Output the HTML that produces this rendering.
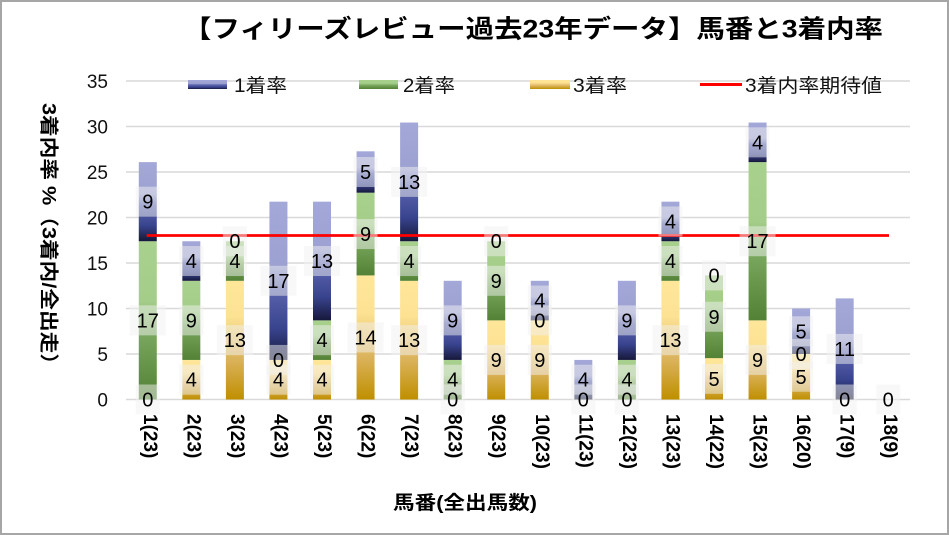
<!DOCTYPE html>
<html><head><meta charset="utf-8"><style>
html,body{margin:0;padding:0;background:#fff;}
svg{display:block;font-family:"Liberation Sans","Noto Sans CJK JP",sans-serif;}
</style></head><body>
<svg width="949" height="535" viewBox="0 0 949 535" xmlns="http://www.w3.org/2000/svg">
<defs>
<linearGradient id="g1" x1="0" y1="0" x2="0" y2="1">
<stop offset="0" stop-color="#a3a8d8"/><stop offset="0.4" stop-color="#9ca1d1"/><stop offset="0.55" stop-color="#5b64ad"/><stop offset="0.8" stop-color="#39448f"/><stop offset="1" stop-color="#16183a"/>
</linearGradient>
<linearGradient id="g2" x1="0" y1="0" x2="0" y2="1">
<stop offset="0" stop-color="#a9d18e"/><stop offset="0.38" stop-color="#a3cd88"/><stop offset="0.6" stop-color="#77a65c"/><stop offset="1" stop-color="#538135"/>
</linearGradient>
<linearGradient id="g3" x1="0" y1="0" x2="0" y2="1">
<stop offset="0" stop-color="#ffe699"/><stop offset="0.3" stop-color="#fde294"/><stop offset="0.65" stop-color="#dcb45e"/><stop offset="1" stop-color="#bf8f00"/>
</linearGradient>
</defs>
<rect x="1" y="1" width="947" height="533" fill="#fff" stroke="#a6a6a6" stroke-width="2"/>

<text x="183" y="37.5" font-size="25" font-weight="bold" textLength="700" lengthAdjust="spacingAndGlyphs" fill="#000">【フィリーズレビュー過去23年データ】馬番と3着内率</text>

<!-- gridlines -->
<g stroke="#d9d9d9" stroke-width="1.5">
<line x1="126" y1="81" x2="910" y2="81"/>
<line x1="126" y1="126.5" x2="910" y2="126.5"/>
<line x1="126" y1="172" x2="910" y2="172"/>
<line x1="126" y1="217.5" x2="910" y2="217.5"/>
<line x1="126" y1="263" x2="910" y2="263"/>
<line x1="126" y1="308.5" x2="910" y2="308.5"/>
<line x1="126" y1="354" x2="910" y2="354"/>
<line x1="126" y1="399.5" x2="910" y2="399.5"/>
</g>

<!-- y ticks -->
<g font-size="19" text-anchor="end" fill="#111">
<text x="108" y="88">35</text>
<text x="108" y="133.5">30</text>
<text x="108" y="179">25</text>
<text x="108" y="224.5">20</text>
<text x="108" y="270">15</text>
<text x="108" y="315.5">10</text>
<text x="108" y="361">5</text>
<text x="108" y="406.5">0</text>
</g>

<text transform="translate(48,239) rotate(90)" text-anchor="middle" dominant-baseline="central" font-size="19" font-weight="bold" textLength="272" lengthAdjust="spacingAndGlyphs" fill="#000">3着内率 %（3着内/全出走）</text>

<!-- legend -->
<rect x="188" y="80" width="39" height="9" fill="url(#g1)"/>
<text x="234" y="92" font-size="19" textLength="53" lengthAdjust="spacingAndGlyphs" fill="#111">1着率</text>
<rect x="359" y="80" width="39" height="9" fill="url(#g2)"/>
<text x="403" y="92" font-size="19" textLength="52" lengthAdjust="spacingAndGlyphs" fill="#111">2着率</text>
<rect x="530" y="80" width="40" height="9" fill="url(#g3)"/>
<text x="573" y="92" font-size="19" textLength="54" lengthAdjust="spacingAndGlyphs" fill="#111">3着率</text>
<line x1="700" y1="84.5" x2="742" y2="84.5" stroke="#ff0000" stroke-width="3"/>
<text x="745" y="92" font-size="19" textLength="137" lengthAdjust="spacingAndGlyphs" fill="#111">3着内率期待値</text>

<!-- bars -->
<g>
<!-- 1 -->
<rect x="138.78" y="241.24" width="18" height="158.26" fill="url(#g2)"/>
<rect x="138.78" y="162.11" width="18" height="79.13" fill="url(#g1)"/>
<!-- 2 -->
<rect x="182.33" y="359.93" width="18" height="39.57" fill="url(#g3)"/>
<rect x="182.33" y="280.8" width="18" height="79.13" fill="url(#g2)"/>
<rect x="182.33" y="241.24" width="18" height="39.57" fill="url(#g1)"/>
<!-- 3 -->
<rect x="225.89" y="280.8" width="18" height="118.7" fill="url(#g3)"/>
<rect x="225.89" y="241.24" width="18" height="39.57" fill="url(#g2)"/>
<!-- 4 -->
<rect x="269.44" y="359.93" width="18" height="39.57" fill="url(#g3)"/>
<rect x="269.44" y="201.67" width="18" height="158.26" fill="url(#g1)"/>
<!-- 5 -->
<rect x="313" y="359.93" width="18" height="39.57" fill="url(#g3)"/>
<rect x="313" y="320.37" width="18" height="39.57" fill="url(#g2)"/>
<rect x="313" y="201.67" width="18" height="118.7" fill="url(#g1)"/>
<!-- 6 -->
<rect x="356.56" y="275.41" width="18" height="124.09" fill="url(#g3)"/>
<rect x="356.56" y="192.68" width="18" height="82.73" fill="url(#g2)"/>
<rect x="356.56" y="151.32" width="18" height="41.36" fill="url(#g1)"/>
<!-- 7 -->
<rect x="400.11" y="280.8" width="18" height="118.7" fill="url(#g3)"/>
<rect x="400.11" y="241.24" width="18" height="39.57" fill="url(#g2)"/>
<rect x="400.11" y="122.54" width="18" height="118.7" fill="url(#g1)"/>
<!-- 8 -->
<rect x="443.67" y="359.93" width="18" height="39.57" fill="url(#g2)"/>
<rect x="443.67" y="280.8" width="18" height="79.13" fill="url(#g1)"/>
<!-- 9 -->
<rect x="487.22" y="320.37" width="18" height="79.13" fill="url(#g3)"/>
<rect x="487.22" y="241.24" width="18" height="79.13" fill="url(#g2)"/>
<!-- 10 -->
<rect x="530.78" y="320.37" width="18" height="79.13" fill="url(#g3)"/>
<rect x="530.78" y="280.8" width="18" height="39.57" fill="url(#g1)"/>
<!-- 11 -->
<rect x="574.33" y="359.93" width="18" height="39.57" fill="url(#g1)"/>
<!-- 12 -->
<rect x="617.89" y="359.93" width="18" height="39.57" fill="url(#g2)"/>
<rect x="617.89" y="280.8" width="18" height="79.13" fill="url(#g1)"/>
<!-- 13 -->
<rect x="661.44" y="280.8" width="18" height="118.7" fill="url(#g3)"/>
<rect x="661.44" y="241.24" width="18" height="39.57" fill="url(#g2)"/>
<rect x="661.44" y="201.67" width="18" height="39.57" fill="url(#g1)"/>
<!-- 14 -->
<rect x="705" y="358.14" width="18" height="41.36" fill="url(#g3)"/>
<rect x="705" y="275.41" width="18" height="82.73" fill="url(#g2)"/>
<!-- 15 -->
<rect x="748.56" y="320.37" width="18" height="79.13" fill="url(#g3)"/>
<rect x="748.56" y="162.11" width="18" height="158.26" fill="url(#g2)"/>
<rect x="748.56" y="122.54" width="18" height="39.57" fill="url(#g1)"/>
<!-- 16 -->
<rect x="792.11" y="354" width="18" height="45.5" fill="url(#g3)"/>
<rect x="792.11" y="308.5" width="18" height="45.5" fill="url(#g1)"/>
<!-- 17 -->
<rect x="835.67" y="298.39" width="18" height="101.11" fill="url(#g1)"/>
</g>

<!-- expected line -->
<line x1="146.7" y1="235.5" x2="889" y2="235.5" stroke="#ff0000" stroke-width="2.8"/>

<!-- label boxes -->
<g fill="#f2f2f2" fill-opacity="0.5">
<rect x="135.78" y="384.5" width="24" height="30"/>
<rect x="129.78" y="305.37" width="36" height="30"/>
<rect x="135.78" y="186.68" width="24" height="30"/>

<rect x="179.33" y="364.72" width="24" height="30"/>
<rect x="179.33" y="305.37" width="24" height="30"/>
<rect x="179.33" y="246.02" width="24" height="30"/>

<rect x="216.89" y="325.15" width="36" height="30"/>
<rect x="222.89" y="246.02" width="24" height="30"/>
<rect x="222.89" y="226.24" width="24" height="30"/>

<rect x="266.44" y="364.72" width="24" height="30"/>
<rect x="266.44" y="344.93" width="24" height="30"/>
<rect x="260.44" y="265.8" width="36" height="30"/>

<rect x="310" y="364.72" width="24" height="30"/>
<rect x="310" y="325.15" width="24" height="30"/>
<rect x="304" y="246.02" width="36" height="30"/>

<rect x="347.56" y="322.45" width="36" height="30"/>
<rect x="353.56" y="219.05" width="24" height="30"/>
<rect x="353.56" y="157" width="24" height="30"/>

<rect x="391.11" y="325.15" width="36" height="30"/>
<rect x="397.11" y="246.02" width="24" height="30"/>
<rect x="391.11" y="166.89" width="36" height="30"/>

<rect x="440.67" y="384.5" width="24" height="30"/>
<rect x="440.67" y="364.72" width="24" height="30"/>
<rect x="440.67" y="305.37" width="24" height="30"/>

<rect x="484.22" y="344.93" width="24" height="30"/>
<rect x="484.22" y="265.8" width="24" height="30"/>
<rect x="484.22" y="226.24" width="24" height="30"/>

<rect x="527.78" y="344.93" width="24" height="30"/>
<rect x="527.78" y="305.37" width="24" height="30"/>
<rect x="527.78" y="285.58" width="24" height="30"/>

<rect x="571.33" y="384.5" width="24" height="30"/>
<rect x="571.33" y="364.72" width="24" height="30"/>

<rect x="614.89" y="384.5" width="24" height="30"/>
<rect x="614.89" y="364.72" width="24" height="30"/>
<rect x="614.89" y="305.37" width="24" height="30"/>

<rect x="652.44" y="325.15" width="36" height="30"/>
<rect x="658.44" y="246.02" width="24" height="30"/>
<rect x="658.44" y="206.46" width="24" height="30"/>

<rect x="702" y="363.82" width="24" height="30"/>
<rect x="702" y="301.77" width="24" height="30"/>
<rect x="702" y="260.41" width="24" height="30"/>

<rect x="745.56" y="344.93" width="24" height="30"/>
<rect x="739.56" y="226.24" width="36" height="30"/>
<rect x="745.56" y="127.33" width="24" height="30"/>

<rect x="789.11" y="361.75" width="24" height="30"/>
<rect x="789.11" y="339" width="24" height="30"/>
<rect x="789.11" y="316.25" width="24" height="30"/>

<rect x="832.67" y="384.5" width="24" height="30"/>
<rect x="826.67" y="333.94" width="36" height="30"/>

<rect x="876.22" y="384.5" width="24" height="30"/>
</g>

<!-- label texts -->
<g font-size="20" text-anchor="middle" fill="#000">
<text x="147.78" y="406.5">0</text>
<text x="147.78" y="327.37">17</text>
<text x="147.78" y="208.68">9</text>

<text x="191.33" y="386.72">4</text>
<text x="191.33" y="327.37">9</text>
<text x="191.33" y="268.02">4</text>

<text x="234.89" y="347.15">13</text>
<text x="234.89" y="268.02">4</text>
<text x="234.89" y="248.24">0</text>

<text x="278.44" y="386.72">4</text>
<text x="278.44" y="366.93">0</text>
<text x="278.44" y="287.8">17</text>

<text x="322" y="386.72">4</text>
<text x="322" y="347.15">4</text>
<text x="322" y="268.02">13</text>

<text x="365.56" y="344.45">14</text>
<text x="365.56" y="241.05">9</text>
<text x="365.56" y="179">5</text>

<text x="409.11" y="347.15">13</text>
<text x="409.11" y="268.02">4</text>
<text x="409.11" y="188.89">13</text>

<text x="452.67" y="406.5">0</text>
<text x="452.67" y="386.72">4</text>
<text x="452.67" y="327.37">9</text>

<text x="496.22" y="366.93">9</text>
<text x="496.22" y="287.8">9</text>
<text x="496.22" y="248.24">0</text>

<text x="539.78" y="366.93">9</text>
<text x="539.78" y="327.37">0</text>
<text x="539.78" y="307.58">4</text>

<text x="583.33" y="406.5">0</text>
<text x="583.33" y="386.72">4</text>

<text x="626.89" y="406.5">0</text>
<text x="626.89" y="386.72">4</text>
<text x="626.89" y="327.37">9</text>

<text x="670.44" y="347.15">13</text>
<text x="670.44" y="268.02">4</text>
<text x="670.44" y="228.46">4</text>

<text x="714" y="385.82">5</text>
<text x="714" y="323.77">9</text>
<text x="714" y="282.41">0</text>

<text x="757.56" y="366.93">9</text>
<text x="757.56" y="248.24">17</text>
<text x="757.56" y="149.33">4</text>

<text x="801.11" y="383.75">5</text>
<text x="801.11" y="361">0</text>
<text x="801.11" y="338.25">5</text>

<text x="844.67" y="406.5">0</text>
<text x="844.67" y="355.94">11</text>

<text x="888.22" y="406.5">0</text>
</g>

<!-- x labels -->
<g font-size="19" font-weight="bold" fill="#000" dominant-baseline="central">
<text transform="translate(149.3,414) rotate(90)">1(23)</text>
<text transform="translate(192.8,414) rotate(90)">2(23)</text>
<text transform="translate(236.4,414) rotate(90)">3(23)</text>
<text transform="translate(279.9,414) rotate(90)">4(23)</text>
<text transform="translate(323.5,414) rotate(90)">5(23)</text>
<text transform="translate(367.1,414) rotate(90)">6(22)</text>
<text transform="translate(410.6,414) rotate(90)">7(23)</text>
<text transform="translate(454.2,414) rotate(90)">8(23)</text>
<text transform="translate(497.7,414) rotate(90)">9(23)</text>
<text transform="translate(541.3,414) rotate(90)">10(23)</text>
<text transform="translate(584.8,414) rotate(90)">11(23)</text>
<text transform="translate(628.4,414) rotate(90)">12(23)</text>
<text transform="translate(671.9,414) rotate(90)">13(23)</text>
<text transform="translate(715.5,414) rotate(90)">14(22)</text>
<text transform="translate(759.1,414) rotate(90)">15(23)</text>
<text transform="translate(802.6,414) rotate(90)">16(20)</text>
<text transform="translate(846.2,414) rotate(90)">17(9)</text>
<text transform="translate(889.7,414) rotate(90)">18(9)</text>
</g>

<text x="465" y="509" text-anchor="middle" font-size="19" font-weight="bold" textLength="144" lengthAdjust="spacingAndGlyphs" fill="#000">馬番(全出馬数)</text>
</svg>
</body></html>
